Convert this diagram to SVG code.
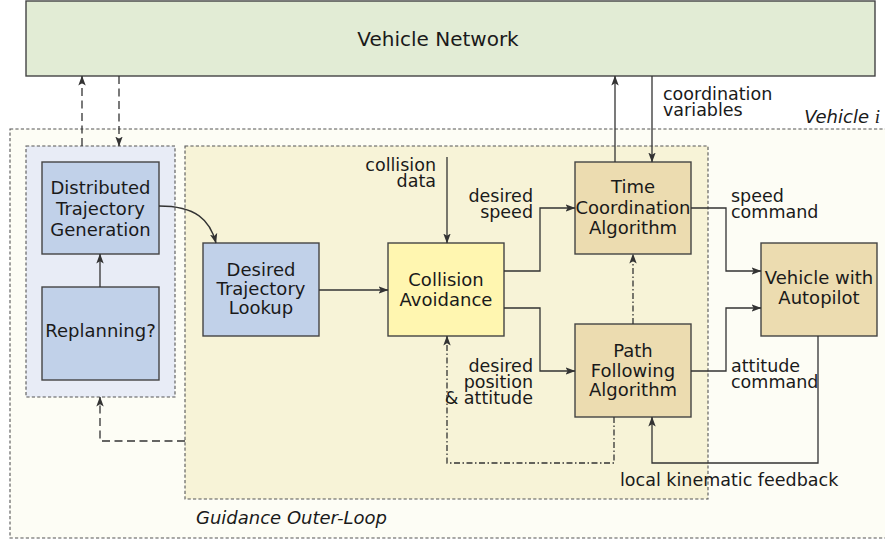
<svg xmlns="http://www.w3.org/2000/svg" width="885" height="542" viewBox="0 0 885 542">
<defs>
<style>
text{font-family:"DejaVu Sans","Liberation Sans",sans-serif;font-size:18px;fill:#1a1a1a}
.c{text-anchor:middle}
.r{text-anchor:end}
.it{font-style:italic}
.lb{font-size:17.5px}
.big{font-size:20px}
.box{stroke:#444;stroke-width:1.4}
.grp{stroke:#555;stroke-width:1.1;stroke-dasharray:3.2,2.2}
.ln{fill:none;stroke:#333;stroke-width:1.3}
.dash{stroke-dasharray:8,4.5}
.dd{stroke-dasharray:6,2.5,1.5,2.5}
</style>
<marker id="ah" viewBox="0 0 10 8" refX="9.5" refY="4" markerWidth="10" markerHeight="8" markerUnits="userSpaceOnUse" orient="auto">
<path d="M0,0.3 L10,4 L0,7.7 L2.2,4 Z" fill="#333"/>
</marker>
</defs>

<g id="vehicle-i-frame">
<rect class="grp" x="10" y="129" width="885" height="409" fill="#fdfdf5"/>
<text class="r it" x="880" y="123">Vehicle <tspan font-family="Liberation Serif,serif" font-size="19">i</tspan></text>
</g>
<g id="replanning-group">
<rect class="grp" x="26" y="146" width="149" height="251" fill="#e8ecf6"/>
</g>
<g id="guidance-outer-loop">
<rect class="grp" x="185" y="146" width="523" height="353" fill="#f7f3d7"/>
<text class="it" x="196" y="524">Guidance Outer-Loop</text>
</g>

<g id="vehicle-network">
<rect class="box" x="26" y="1" width="849" height="75" fill="#e2ecd5"/>
<text class="c big" x="438" y="46">Vehicle Network</text>
</g>
<g id="distributed-trajectory-generation">
<rect class="box" x="42" y="162" width="117" height="92" fill="#c1d1e9"/>
<text class="c" x="100.5" y="194">Distributed</text>
<text class="c" x="100.5" y="215">Trajectory</text>
<text class="c" x="100.5" y="236">Generation</text>
</g>
<g id="replanning">
<rect class="box" x="42" y="287" width="117" height="93" fill="#c1d1e9"/>
<text class="c" x="100.5" y="337">Replanning?</text>
</g>
<g id="desired-trajectory-lookup">
<rect class="box" x="203" y="243" width="116" height="93" fill="#c1d1e9"/>
<text class="c" x="261" y="276">Desired</text>
<text class="c" x="261" y="295">Trajectory</text>
<text class="c" x="261" y="314">Lookup</text>
</g>
<g id="collision-avoidance">
<rect class="box" x="388" y="243" width="116" height="93" fill="#fff6b0"/>
<text class="c" x="446" y="286">Collision</text>
<text class="c" x="446" y="306">Avoidance</text>
</g>
<g id="time-coordination">
<rect class="box" x="575" y="162" width="116" height="92" fill="#ecdcb0"/>
<text class="c" x="633" y="193">Time</text>
<text class="c" x="633" y="214">Coordination</text>
<text class="c" x="633" y="234">Algorithm</text>
</g>
<g id="path-following">
<rect class="box" x="575" y="324" width="116" height="93" fill="#ecdcb0"/>
<text class="c" x="633" y="357">Path</text>
<text class="c" x="633" y="377">Following</text>
<text class="c" x="633" y="396">Algorithm</text>
</g>
<g id="vehicle-with-autopilot">
<rect class="box" x="761" y="243" width="116" height="93" fill="#ecdcb0"/>
<text class="c" x="819" y="284">Vehicle with</text>
<text class="c" x="819" y="304">Autopilot</text>
</g>

<g id="connectors">
<path class="ln dash" d="M82,146 V76" marker-end="url(#ah)"/>
<path class="ln dash" d="M119,76 V146" marker-end="url(#ah)"/>
<path class="ln dash" d="M185,441 H100 V397" marker-end="url(#ah)"/>
<path class="ln" d="M100,287 V254" marker-end="url(#ah)"/>
<path class="ln" d="M159,206 C196,206 210,220 216,243" marker-end="url(#ah)"/>
<path class="ln" d="M319,290 H388" marker-end="url(#ah)"/>
<path class="ln" d="M447,157 V243" marker-end="url(#ah)"/>
<path class="ln" d="M504,271 H540 V208 H575" marker-end="url(#ah)"/>
<path class="ln" d="M504,308 H540 V371 H575" marker-end="url(#ah)"/>
<path class="ln" d="M615,162 V76" marker-end="url(#ah)"/>
<path class="ln" d="M652,76 V162" marker-end="url(#ah)"/>
<path class="ln dd" d="M633,324 V254" marker-end="url(#ah)"/>
<path class="ln" d="M691,208 H726 V271 H761" marker-end="url(#ah)"/>
<path class="ln" d="M691,371 H726 V308 H761" marker-end="url(#ah)"/>
<path class="ln" d="M818,336 V463 H652 V417" marker-end="url(#ah)"/>
<path class="ln dd" d="M614,417 V463 H447 V336" marker-end="url(#ah)"/>
</g>

<g id="labels">
<text class="r lb" x="436" y="171">collision</text>
<text class="r lb" x="436" y="187">data</text>
<text class="r lb" x="533" y="202">desired</text>
<text class="r lb" x="533" y="218">speed</text>
<text class="lb" x="663" y="100">coordination</text>
<text class="lb" x="663" y="116">variables</text>
<text class="lb" x="731" y="202">speed</text>
<text class="lb" x="731" y="218">command</text>
<text class="lb" x="731" y="372">attitude</text>
<text class="lb" x="731" y="388">command</text>
<text class="r lb" x="533" y="372">desired</text>
<text class="r lb" x="533" y="388">position</text>
<text class="r lb" x="533" y="404">&amp; attitude</text>
<text class="lb" x="620" y="486">local kinematic feedback</text>
</g>
</svg>
